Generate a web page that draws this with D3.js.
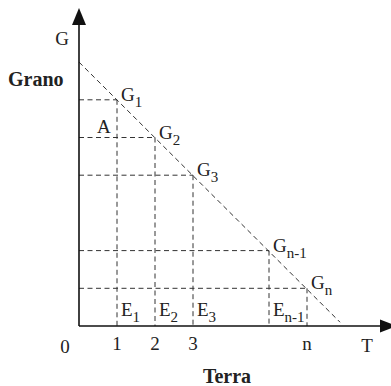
<!DOCTYPE html>
<html lang="it">
<head>
    <meta charset="UTF-8">
    <title>Grano e Terra</title>
    <style>
        body { margin: 0; background: #fff; }
        svg text { font-family: "Liberation Serif", "Times New Roman", serif; fill: #222; }
        .bold { font-weight: bold; }
        .dash { stroke: #333; stroke-width: 1; stroke-dasharray: 5 3.5; fill: none; }
    </style>
</head>
<body>
    <div id="chart"></div>
    <script src="https://d3js.org/d3.v7.min.js"></script>
    <script>
        // unità di terra e prodotto di grano per ogni punto G
        const terra = [1, 2, 3, 5, 6];
        const grano = [6, 5, 4, 2, 1];
        const pediciG = ["1", "2", "3", "n-1", "n"];
        // etichette E sotto i punti
        const terraE = [1, 2, 3, 5];
        const pediciE = ["1", "2", "3", "n-1"];
        // tacche sull'asse T
        const tickPos = [1, 2, 3, 6];
        const tickLabels = ["1", "2", "3", "n"];
        // retta tratteggiata
        const retta = [[0, 7], [6.87, 0.1]];

        const width = 391, height = 386;
        const svg = d3.select("#chart").append("svg").attr("width", width).attr("height", height);

        const x = d3.scaleLinear().domain([0, 8]).range([79, 79 + 8 * 38]);
        const y = d3.scaleLinear().domain([0, 7]).range([326, 326 - 7 * 37.7]);

        const g = svg.append("g");

        // linee tratteggiate orizzontali e verticali
        terra.forEach((t, i) => {
            g.append("line").attr("class", "dash")
                .attr("x1", x(0)).attr("y1", y(grano[i]))
                .attr("x2", x(t)).attr("y2", y(grano[i]));
            g.append("line").attr("class", "dash")
                .attr("x1", x(t)).attr("y1", y(grano[i]))
                .attr("x2", x(t)).attr("y2", y(0));
        });

        // diagonale
        g.append("path").attr("class", "dash")
            .attr("d", d3.line().x(d => x(d[0])).y(d => y(d[1]))(retta));

        // assi
        g.append("line").attr("x1", x(0)).attr("y1", y(0)).attr("x2", x(0)).attr("y2", 20)
            .attr("stroke", "#111").attr("stroke-width", 1.6);
        g.append("line").attr("x1", x(0)).attr("y1", y(0)).attr("x2", 384).attr("y2", y(0))
            .attr("stroke", "#111").attr("stroke-width", 1.6);
        g.append("path").attr("d", `M${x(0)},8 L${x(0) - 7},25 L${x(0) + 7},25 Z`).attr("fill", "#111");
        g.append("path").attr("d", `M397,${y(0)} L380,${y(0) - 6.5} L380,${y(0) + 6.5} Z`).attr("fill", "#111");

        // etichette G
        terra.forEach((t, i) => {
            const tx = g.append("text").attr("x", x(t) + 4).attr("y", y(grano[i]) + 1).attr("font-size", 19);
            tx.append("tspan").text("G");
            tx.append("tspan").attr("font-size", 15).attr("dy", 6).text(pediciG[i]);
        });

        // etichette E
        terraE.forEach((t, i) => {
            const tx = g.append("text").attr("x", x(t) + 4).attr("y", 316).attr("font-size", 19);
            tx.append("tspan").text("E");
            tx.append("tspan").attr("font-size", 15).attr("dy", 6).text(pediciE[i]);
        });

        // A
        g.append("text").attr("x", 97).attr("y", 133).attr("font-size", 19).text("A");

        // tacche
        g.selectAll(".tick").data(tickPos).enter().append("text")
            .attr("x", d => x(d)).attr("y", 350).attr("text-anchor", "middle").attr("font-size", 19)
            .text((d, i) => tickLabels[i]);
        g.append("text").attr("x", 65).attr("y", 353).attr("text-anchor", "middle").attr("font-size", 19).text("0");
        g.append("text").attr("x", 367).attr("y", 352).attr("text-anchor", "middle").attr("font-size", 19).text("T");
        g.append("text").attr("x", 62).attr("y", 45).attr("text-anchor", "middle").attr("font-size", 19).text("G");

        // titoli assi
        g.append("text").attr("class", "bold").attr("x", 8).attr("y", 86).attr("font-size", 20).text("Grano");
        g.append("text").attr("class", "bold").attr("x", 227).attr("y", 383).attr("text-anchor", "middle").attr("font-size", 20).text("Terra");
    </script>
</body>
</html>
